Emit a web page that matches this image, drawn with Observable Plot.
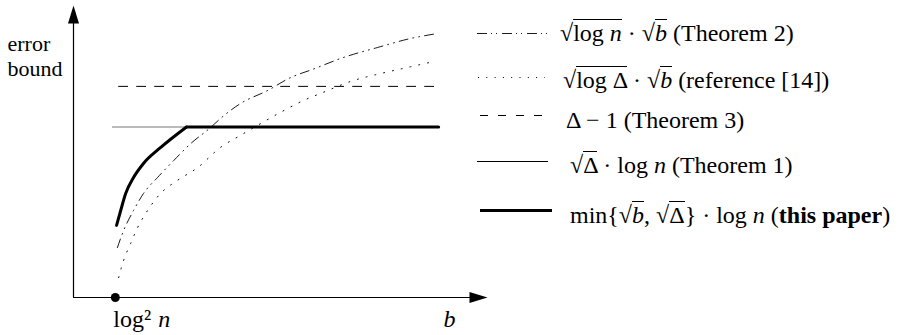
<!DOCTYPE html>
<html><head><meta charset="utf-8">
<script src="https://cdn.jsdelivr.net/npm/d3@7"></script>
<script src="https://cdn.jsdelivr.net/npm/@observablehq/plot@0.6"></script>
<style>
body{margin:0;background:#fff}
#wrap{position:relative;width:912px;height:335px;overflow:hidden;font-family:"Liberation Serif",serif;background:#fff}
#wrap svg{display:block}
.row{position:absolute;font-family:"Liberation Serif",serif;font-size:24px;line-height:24px;white-space:nowrap;color:#000}
.ov{border-top:1.3px solid #000}
</style></head>
<body><div id="wrap"></div>
<script>
// ---- data (arbitrary units: axis origin = 0, arrow tips = 100) ----
const logSqN = 10.1;                 // position of log^2 n on the b axis
const thm2B     = [10.6, 12.1, 14.5, 16.9, 20.3, 24.2, 28.3, 33.1, 35.5, 40.3, 46.9, 52.4, 57.7, 65.2, 73.4, 81.4, 87.9];
const thm2Bound = [17.1, 22.9, 29.8, 35.6, 41.1, 46.9, 52.7, 58.2, 61.3, 66.4, 70.9, 75.3, 78.1, 82.2, 85.6, 88.7, 90.4];
const refB      = [10.9, 12.1, 13.8, 15.5, 17.9, 21.0, 25.1, 30.0, 35.5, 40.3, 44.4, 50.0, 55.6, 59.7, 67.6, 74.2, 80.7, 87.0];
const refBound  = [6.8, 12.7, 18.5, 24.0, 29.8, 35.6, 40.1, 44.5, 51.4, 55.5, 58.9, 63.4, 67.5, 69.9, 74.3, 76.7, 78.8, 80.8];
const thm3B     = [10.9, 87.7];
const thm3Bound = [72.3, 72.3];
const thm1B     = [9.4, 88.2];
const thm1Bound = [58.4, 58.4];
const paperCurveB     = [10.4, 11.4, 12.6, 14.5, 16.9, 21.0, 27.3];
const paperCurveBound = [24.7, 29.8, 35.6, 41.1, 45.9, 51.3, 58.4];
const paperFlatB      = [27.3, 88.2];
const paperFlatBound  = [58.4, 58.4];
const bLabelAt = 90.8;
const yLabelLines = ["error", "bound"];
const legendLabels = [
  '√<span class="ov">log <i>n</i></span> · √<span class="ov"><i>b</i></span> (Theorem 2)',
  '√<span class="ov">log Δ</span> · √<span class="ov"><i>b</i></span> (reference [14])',
  'Δ − 1 (Theorem 3)',
  '√<span class="ov">Δ</span> · log <i>n</i> (Theorem 1)',
  'min{√<span class="ov"><i>b</i></span>, √<span class="ov">Δ</span>} · log <i>n</i> (<b>this paper</b>)'
];

const pts = (xs, ys) => xs.map((x, i) => ({x, y: ys[i]}));
const serif = {fontFamily: "Liberation Serif", fontSize: 24, fill: "black"};

// filled arrow-head symbol: tip at origin, pointing up
const arrowHead = {draw(ctx) { ctx.moveTo(0, 0); ctx.lineTo(5.5, 18); ctx.lineTo(-5.5, 18); ctx.closePath(); }};

const chart = Plot.plot({
  width: 912, height: 335,
  marginLeft: 73, marginRight: 425, marginTop: 5, marginBottom: 38,
  x: {domain: [0, 100], axis: null},
  y: {domain: [0, 100], axis: null},
  style: {fontFamily: "Liberation Serif", fontSize: "24px", background: "white", overflow: "visible"},
  marks: [
    Plot.ruleY([0], {x1: 0, x2: 96, stroke: "black", strokeWidth: 1.2}),
    Plot.ruleX([0], {y1: 0, y2: 95, stroke: "black", strokeWidth: 1.2}),
    Plot.dot([{x: 0, y: 100}], {x: "x", y: "y", symbol: arrowHead, r: 5, fill: "black", stroke: null}),
    Plot.dot([{x: 100, y: 0}], {x: "x", y: "y", symbol: arrowHead, r: 5, fill: "black", stroke: null, rotate: 90}),
    Plot.line(pts(thm1B, thm1Bound), {x: "x", y: "y", stroke: "#777", strokeWidth: 1.1}),
    Plot.line(pts(thm3B, thm3Bound), {x: "x", y: "y", stroke: "black", strokeWidth: 1, strokeDasharray: "9,9"}),
    Plot.line(pts(thm2B, thm2Bound), {x: "x", y: "y", curve: "monotone-x", stroke: "black", strokeWidth: 0.9, strokeDasharray: "9,5,1,5,1,5"}),
    Plot.line(pts(refB, refBound), {x: "x", y: "y", curve: "monotone-x", stroke: "black", strokeWidth: 1, strokeDasharray: "1,8"}),
    Plot.line(pts(paperCurveB, paperCurveBound), {x: "x", y: "y", curve: "monotone-x", stroke: "black", strokeWidth: 3}),
    Plot.line(pts(paperFlatB, paperFlatBound), {x: "x", y: "y", stroke: "black", strokeWidth: 3}),
    Plot.dot([{x: logSqN, y: 0}], {x: "x", y: "y", r: 4.5, fill: "black", stroke: null}),
    Plot.text([{x: logSqN, y: 0}], {x: "x", y: "y", text: () => "log²", textAnchor: "start", lineAnchor: "bottom", dx: -2, dy: 29, ...serif}),
    Plot.text([{x: logSqN, y: 0}], {x: "x", y: "y", text: () => "n", textAnchor: "start", lineAnchor: "bottom", fontStyle: "italic", dx: 43, dy: 29, ...serif}),
    Plot.text([{x: bLabelAt, y: 0}], {x: "x", y: "y", text: () => "b", textAnchor: "middle", lineAnchor: "bottom", fontStyle: "italic", dy: 29, ...serif}),
    Plot.text([yLabelLines[0]], {frameAnchor: "top-left", text: d => d, textAnchor: "start", lineAnchor: "bottom", dx: -66, dy: 45, ...serif, fontSize: 22}),
    Plot.text([yLabelLines[1]], {frameAnchor: "top-left", text: d => d, textAnchor: "start", lineAnchor: "bottom", dx: -66, dy: 70, ...serif, fontSize: 22})
  ]
});

const wrap = document.getElementById("wrap");
wrap.appendChild(chart);

// legend (line samples + labels) to the right of the plot
const rowsLine = [{x1: 477, x2: 547, y: 33.5, w: 0.9, d: "10,4,1,4,1,5"},
                  {x1: 478, x2: 545, y: 77.5, w: 1, d: "1,7.3"},
                  {x1: 480, x2: 542, y: 115.5, w: 1, d: "8,10"},
                  {x1: 477, x2: 548, y: 161.5, w: 1, d: null},
                  {x1: 480, x2: 552, y: 210.5, w: 3, d: null}];
const rowsText = [{x: 560, base: 41}, {x: 563, base: 88}, {x: 566, base: 128}, {x: 570, base: 173}, {x: 570, base: 223}];
const legSvg = d3.create("svg").attr("width", 912).attr("height", 335)
  .style("position", "absolute").style("left", 0).style("top", 0);
legSvg.selectAll("line").data(rowsLine).join("line")
  .attr("x1", d => d.x1).attr("x2", d => d.x2).attr("y1", d => d.y).attr("y2", d => d.y)
  .attr("stroke", "black").attr("stroke-width", d => d.w).attr("stroke-dasharray", d => d.d);
wrap.appendChild(legSvg.node());
legendLabels.forEach((html, i) => {
  const div = document.createElement("div");
  div.className = "row";
  div.style.left = rowsText[i].x + "px";
  div.style.top = (rowsText[i].base - 20) + "px";
  div.innerHTML = html;
  wrap.appendChild(div);
});
</script>
</body></html>
